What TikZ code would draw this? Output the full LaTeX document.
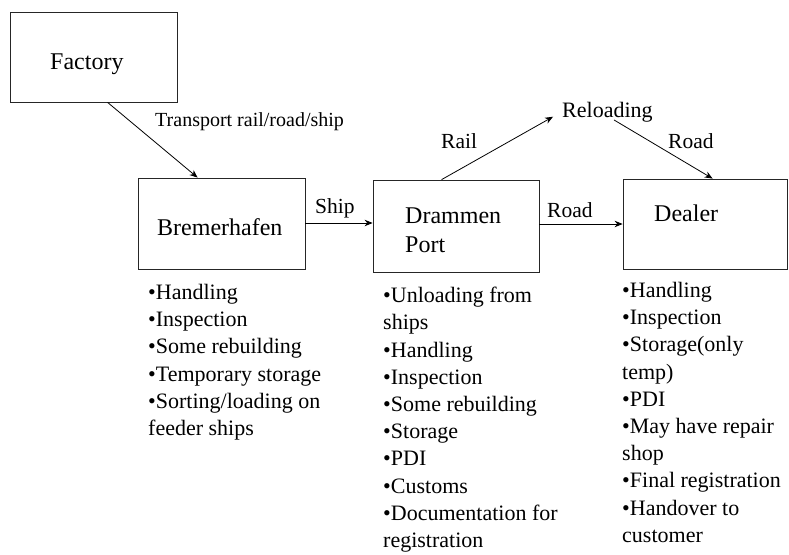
\documentclass[tikz,border=0pt]{standalone}
\usepackage{fontspec}
\setmainfont{Liberation Serif}
\usetikzlibrary{arrows.meta}
\begin{document}
\begin{tikzpicture}[x=1pt,y=-1pt,
  stage/.style={draw=black!85,line width=0.8pt,inner sep=0pt},
  flow/.style={draw=black,line width=0.8pt,-{Stealth[length=8pt,width=6.5pt]}},
  boxtext/.style={anchor=base west,inner sep=0pt,font=\fontsize{24}{29}\selectfont},
  arrowtext/.style={anchor=base west,inner sep=0pt,font=\fontsize{21.5}{26}\selectfont},
  tasks/.style={anchor=north west,inner sep=0pt,align=left,
    font=\fontsize{22}{27.2}\selectfont}]
\useasboundingbox (0,0) rectangle (789,554);

% stations
\node[stage,minimum width=167pt,minimum height=90pt] (fac) at (93.5,57) {};
\node[stage,minimum width=167pt,minimum height=91pt] (brem) at (221.5,223.5) {};
\node[stage,minimum width=166pt,minimum height=92pt] (dram) at (456,226) {};
\node[stage,minimum width=164pt,minimum height=90pt] (deal) at (705,224) {};

% station names
\node[boxtext] (tfac) at (50,69) {Factory};
\node[boxtext] (tbrem) at (157,235) {Bremerhafen};
\node[boxtext,anchor=north west,align=left] (tdram) at (405,207.1) {Drammen\\Port};
\node[boxtext] (tdeal) at (654,221) {Dealer};

% intermediate stop
\node[arrowtext,font=\fontsize{22}{26}\selectfont] (rel) at (562,117) {Reloading};

% transport links
\draw[flow] ([xshift=98pt]fac.south west) -- ([xshift=60pt]brem.north west);
\draw[flow] (brem.east |- 0,223) -- (dram.west |- 0,223);
\draw[flow] (dram.east |- 0,224) -- (deal.west |- 0,224);
\draw[flow] ([xshift=69pt]dram.north west) -- ([xshift=-9pt,yshift=-5pt]rel.west);
\draw[flow] ([xshift=52pt,yshift=2pt]rel.south west) -- ([xshift=90pt]deal.north west);

% link labels
\node[arrowtext,font=\fontsize{20}{24}\selectfont] (ltr) at (155,126) {Transport rail/road/ship};
\node[arrowtext] (lship) at (315,213) {Ship};
\node[arrowtext] (lroad) at (547,217) {Road};
\node[arrowtext] (lrail) at (441,148) {Rail};
\node[arrowtext] (lroad2) at (668,148) {Road};

% activities at each station
\node[tasks] (abrem) at (148,284) {•Handling\\•Inspection\\•Some rebuilding\\•Temporary storage\\•Sorting/loading on\\feeder ships};
\node[tasks] (adram) at (383,287) {•Unloading from\\ships\\•Handling\\•Inspection\\•Some rebuilding\\•Storage\\•PDI\\•Customs\\•Documentation for\\registration};
\node[tasks] (adeal) at (622,282) {•Handling\\•Inspection\\•Storage(only\\temp)\\•PDI\\•May have repair\\shop\\•Final registration\\•Handover to\\customer};
\end{tikzpicture}
\end{document}
